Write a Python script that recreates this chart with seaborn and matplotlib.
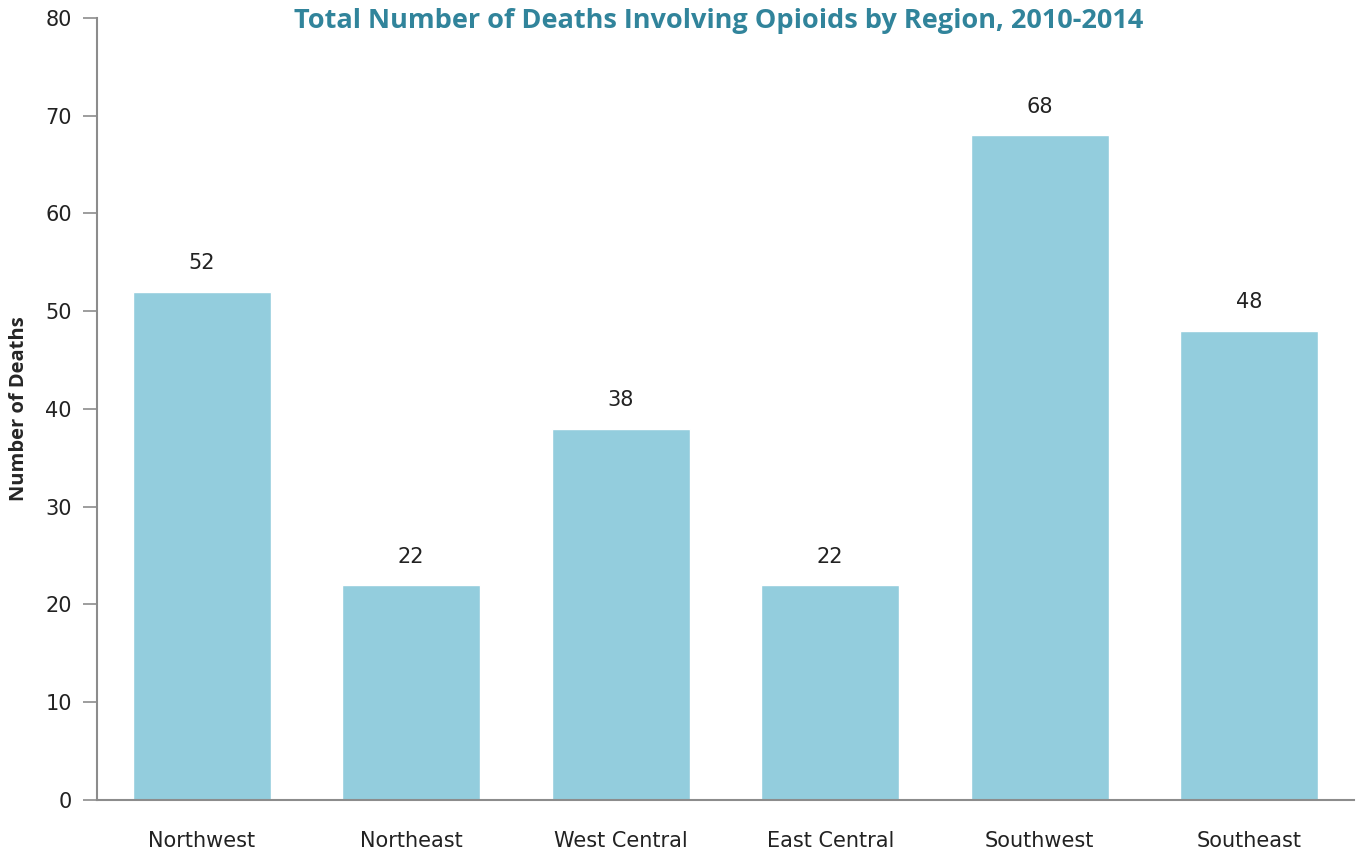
import matplotlib
matplotlib.use('Agg')
import matplotlib.pyplot as plt
import pandas as pd
import seaborn as sns

# Data
regions = ['Northwest', 'Northeast', 'West Central', 'East Central', 'Southwest', 'Southeast']
deaths = [52, 22, 38, 22, 68, 48]
yticks = [0, 10, 20, 30, 40, 50, 60, 70, 80]

df = pd.DataFrame({'region': regions, 'deaths': deaths})

sns.set_style('white')
fig = plt.figure(figsize=(13.56, 8.52), dpi=100)
ax = fig.add_axes([0.0715, 0.061, 0.927, 0.918])

sns.barplot(data=df, x='region', y='deaths', color='#93CDDD', saturation=1,
            width=0.66, edgecolor='white', linewidth=1, ax=ax)

for i, v in enumerate(deaths):
    ax.text(i, v + 2.9, str(v), ha='center', va='center', fontsize=15, color='#222222')

ax.set_ylim(0, 80)
ax.set_xlim(-0.5, len(regions) - 0.5)
ax.set_yticks(yticks)
ax.tick_params(axis='y', left=True, length=10, width=1.2, color='#8c8c8c', labelsize=15, pad=8)
ax.tick_params(axis='x', bottom=False, length=0, labelsize=15, pad=22)
for lbl in ax.get_xticklabels() + ax.get_yticklabels():
    lbl.set_color('#222222')

ax.set_xlabel('')
ax.set_ylabel('Number of Deaths', fontsize=14.5, fontweight='bold', family='Open Sans', labelpad=12)

sns.despine(ax=ax, top=True, right=True)
for side in ['left', 'bottom']:
    ax.spines[side].set_color('#8c8c8c')
    ax.spines[side].set_linewidth(1.5)

fig.text(0.53, 0.975, 'Total Number of Deaths Involving Opioids by Region, 2010-2014',
         ha='center', va='center', fontsize=19.5, fontweight='bold', color='#31849B',
         family='Open Sans')

fig.savefig('out.png', dpi=100)
